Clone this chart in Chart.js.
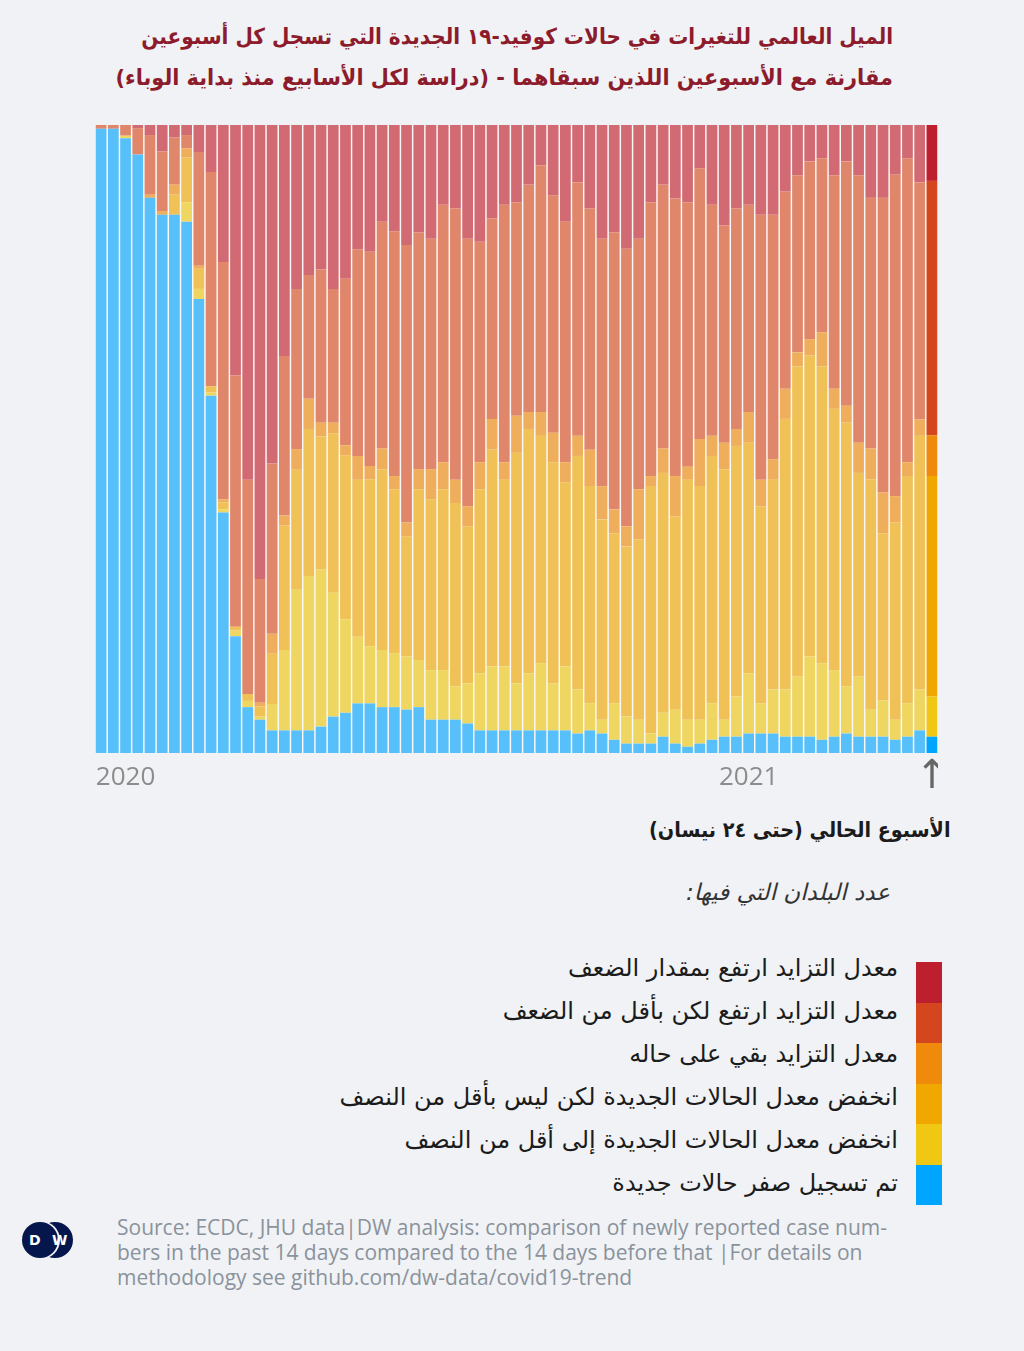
<!DOCTYPE html>
<html lang="ar">
<head>
<meta charset="utf-8">
<script src="https://cdn.jsdelivr.net/npm/chart.js@4.4.1/dist/chart.umd.min.js"></script>
<style>
  body { margin: 0; width: 1024px; height: 1351px; background: #f0f2f5; position: relative; overflow: hidden; font-family: "DejaVu Sans", sans-serif; }
  .rtl { direction: rtl; text-align: right; position: absolute; white-space: nowrap; }
  .title { right: 131px; color: #8c1c2c; font-size: 22px; font-weight: bold; line-height: 30px; transform-origin: right center; }
  #chartBox { position: absolute; left: 95px; top: 125px; width: 843px; height: 688px; }
  #current { right: 74px; top: 818px; font-size: 21px; font-weight: bold; color: #1b1b1b; transform: scaleX(0.915); transform-origin: right center; }
  #countries { right: 134px; top: 879px; font-size: 23px; font-style: italic; color: #333; }
  #swatches { position: absolute; left: 916px; top: 962px; width: 26px; }
  #swatches div { height: 40.5px; }
  #legendText { right: 126px; top: 947px; font-size: 24px; color: #1b1b1b; line-height: 43px; }
  #logo { position: absolute; left: 22px; top: 1222px; width: 52px; height: 36px; }
  #logo .c { position: absolute; top: 0; width: 36px; height: 36px; border-radius: 50%; background: #05164d; }
  #logo .l { position: absolute; top: 0; z-index: 2; color: #fff; font: bold 14px "DejaVu Sans", sans-serif; line-height: 36px; }
  #source { position: absolute; left: 117px; top: 1215px; font-family: "Open Sans", sans-serif; font-size: 21px; line-height: 25px; color: #8a929c; white-space: nowrap; }
</style>
</head>
<body>
<div class="rtl title" style="top:22px; transform: scaleX(0.91)">الميل العالمي للتغيرات في حالات كوفيد-١٩ الجديدة التي تسجل كل أسبوعين</div>
<div class="rtl title" style="top:63px; transform: scaleX(0.947)">مقارنة مع الأسبوعين اللذين سبقاهما - (دراسة لكل الأسابيع منذ بداية الوباء)</div>

<div id="chartBox"><canvas id="chart"></canvas></div>

<div id="current" class="rtl">الأسبوع الحالي (حتى ٢٤ نيسان)</div>
<div id="countries" class="rtl">عدد البلدان التي فيها:</div>

<div id="swatches"></div>
<div id="legendText" class="rtl"></div>

<div id="logo">
  <div class="c" style="left:15px"></div>
  <div class="c" style="left:0; z-index:1; box-shadow:1px 0 0 1px #f0f2f5"></div>
  <span class="l" style="left:7px">D</span>
  <span class="l" style="left:30px">W</span>
</div>
<div id="source">Source: ECDC, JHU data|DW analysis: comparison of newly reported case num-<br>bers in the past 14 days compared to the 14 days before that |For details on<br>methodology see github.com/dw-data/covid19-trend</div>

<script>
// weekly bars, share of countries (%) per category
const weeks = Array.from({ length: 69 }, (_, i) => 'week ' + (i + 1));
const yearTicks = { 2: '2020', 53: '2021' };
const currentWeekMark = '↑';

const zeroCases = [99.4, 99.4, 97.9, 95.3, 88.4, 85.7, 85.7, 84.6, 72.3, 56.9, 38.3, 18.6, 7.3, 5.3, 3.6, 3.6, 3.6, 3.6, 4.2, 5.8,
  6.4, 7.9, 7.9, 7.3, 7.3, 6.9, 7.3, 5.3, 5.3, 5.3, 4.7, 3.6, 3.6, 3.6, 3.6, 3.6, 3.6, 3.6, 3.6, 3.1,
  3.6, 3.1, 2.1, 1.5, 1.5, 1.5, 2.6, 1.5, 1.0, 1.5, 2.1, 2.6, 2.6, 3.1, 3.1, 3.1, 2.6, 2.6, 2.6, 2.1,
  2.6, 3.1, 2.6, 2.6, 2.6, 2.1, 2.6, 3.6, 2.6];
const fellBelowHalf = [0, 0, 0.4, 0, 0, 0, 0, 3.1, 1.6, 0.5, 0.5, 0.9, 1.0, 0.5, 4.2, 12.8, 22.4, 24.6, 25.0, 19.7,
  14.9, 10.6, 9.1, 9.1, 8.6, 8.5, 7.5, 7.9, 7.9, 5.3, 6.4, 9.1, 10.2, 10.2, 7.5, 9.1, 10.7, 7.5, 10.2, 7.0,
  4.3, 2.2, 5.8, 4.3, 3.8, 1.6, 3.8, 5.4, 4.3, 3.8, 5.8, 2.7, 6.4, 9.6, 4.8, 7.0, 7.5, 9.6, 12.8, 12.2,
  10.6, 7.5, 9.6, 4.3, 5.8, 3.2, 5.3, 6.5, 6.4];
const fellNotBelowHalf = [0, 0, 0, 0, 0, 0, 3.2, 7.1, 3.2, 1.0, 1.1, 0.6, 1.1, 1.6, 8.0, 19.8, 19.1, 23.4, 21.2, 25.4,
  26.1, 25.0, 26.6, 28.8, 26.1, 19.1, 27.2, 27.2, 28.8, 29.2, 25.0, 29.3, 34.5, 29.7, 36.7, 38.9, 36.2, 35.2, 29.3, 37.2,
  34.6, 31.9, 27.1, 27.1, 28.7, 39.4, 38.2, 30.8, 38.2, 37.2, 39.4, 39.9, 39.9, 36.7, 31.4, 33.4, 43.1, 49.4, 47.9, 47.3,
  41.6, 42.0, 32.4, 36.7, 26.6, 31.4, 36.2, 40.4, 35.1];
const unchanged = [0, 0, 0, 0, 0.5, 0.6, 1.6, 1.5, 0.5, 0, 0.5, 0, 0, 0.6, 3.2, 1.6, 3.3, 4.8, 2.2, 1.7,
  1.6, 3.8, 2.1, 3.3, 2.1, 2.2, 3.2, 4.8, 4.3, 3.7, 3.2, 4.3, 4.9, 2.8, 5.9, 2.7, 3.8, 4.7, 3.2, 3.2,
  5.8, 5.3, 3.8, 3.2, 8.0, 1.6, 3.9, 6.4, 2.1, 7.5, 3.2, 4.2, 2.7, 4.9, 4.2, 3.3, 4.8, 2.2, 2.6, 5.4,
  3.2, 2.7, 4.8, 4.9, 6.5, 4.2, 2.2, 2.6, 6.5];
const roseLessThanDouble = [0.6, 0.6, 1.7, 4.2, 9.5, 9.5, 7.5, 2.1, 18.1, 34.1, 37.8, 40.0, 34.1, 19.7, 27.1, 25.4, 25.5, 19.7, 24.4, 21.3,
  26.5, 32.9, 34.1, 36.1, 39.0, 44.2, 37.7, 36.7, 41.0, 43.2, 42.6, 35.1, 31.9, 41.0, 34.0, 36.2, 39.3, 37.8, 38.3, 40.4,
  38.4, 39.4, 44.1, 44.2, 39.9, 43.6, 42.0, 44.2, 42.1, 43.1, 36.8, 34.6, 35.1, 33.0, 42.2, 38.9, 31.4, 28.2, 28.3, 27.7,
  34.0, 38.9, 42.6, 39.9, 46.9, 51.2, 48.4, 37.8, 40.5];
const roseDouble = [0, 0, 0, 0.5, 1.6, 4.2, 2.0, 1.6, 4.3, 7.5, 21.8, 39.9, 56.5, 72.3, 53.9, 36.8, 26.1, 23.9, 23.0, 26.1,
  24.5, 19.8, 20.2, 15.4, 16.9, 19.1, 17.1, 18.1, 12.7, 13.3, 18.1, 18.6, 14.9, 12.7, 12.3, 9.5, 6.4, 11.2, 15.4, 9.1,
  13.3, 18.1, 17.1, 19.7, 18.1, 12.3, 9.5, 11.7, 12.3, 6.9, 12.7, 16.0, 13.3, 12.7, 14.3, 14.3, 10.6, 8.0, 5.8, 5.3,
  8.0, 5.8, 8.0, 11.6, 11.6, 7.9, 5.3, 9.1, 8.9];

const categoryNames = [
  'معدل التزايد ارتفع بمقدار الضعف',
  'معدل التزايد ارتفع لكن بأقل من الضعف',
  'معدل التزايد بقي على حاله',
  'انخفض معدل الحالات الجديدة لكن ليس بأقل من النصف',
  'انخفض معدل الحالات الجديدة إلى أقل من النصف',
  'تم تسجيل صفر حالات جديدة'
];
const strongColors = ['#be1f2e', '#d4461e', '#ef8a0c', '#f0a800', '#f0c814', '#00a5ff'];
const softColors = ['#d16a73', '#e0866a', '#efae5c', '#f0c156', '#eed660', '#57c0fb'];

const last = weeks.length - 1;
const seriesTopDown = [roseDouble, roseLessThanDouble, unchanged, fellNotBelowHalf, fellBelowHalf, zeroCases];

// legend
document.getElementById('swatches').innerHTML = strongColors.map(c => `<div style="background:${c}"></div>`).join('');
document.getElementById('legendText').innerHTML = categoryNames.join('<br>');

// bottom of the stack first: zero cases ... doubled
const datasets = seriesTopDown.map((values, k) => ({
  label: categoryNames[k],
  data: values,
  backgroundColor: ctx => ctx.dataIndex === last ? strongColors[k] : softColors[k],
  borderWidth: 0,
  categoryPercentage: 0.88,
  barPercentage: 1
})).reverse();

const areaFill = {
  id: 'areaFill',
  beforeDatasetsDraw(chart) {
    const { ctx, chartArea: a } = chart;
    ctx.save();
    ctx.fillStyle = '#fbf8f8';
    ctx.fillRect(a.left, a.top, a.right - a.left, a.bottom - a.top);
    ctx.restore();
  }
};

new Chart(document.getElementById('chart'), {
  type: 'bar',
  data: { labels: weeks, datasets },
  plugins: [areaFill],
  options: {
    responsive: true,
    maintainAspectRatio: false,
    animation: false,
    layout: { padding: 0 },
    plugins: { legend: { display: false }, tooltip: { enabled: false } },
    scales: {
      x: {
        stacked: true,
        grid: { display: false, drawTicks: false },
        border: { display: false },
        afterFit: scale => {
          scale.height = 60;
          scale.paddingLeft = 0;
          scale.paddingRight = 0;
        },
        ticks: {
          autoSkip: false,
          maxRotation: 0,
          padding: 10,
          callback: (v, i) => i === last ? currentWeekMark : (yearTicks[i] || ''),
          color: ctx => ctx.index === last ? '#666' : '#8c8c8c',
          font: ctx => ctx.index === last
            ? { family: 'DejaVu Sans', size: 40, lineHeight: 0.72 }
            : { family: 'Open Sans', size: 26, lineHeight: 1.1 }
        }
      },
      y: { stacked: true, display: false, min: 0, max: 100 }
    }
  }
});
</script>
</body>
</html>
